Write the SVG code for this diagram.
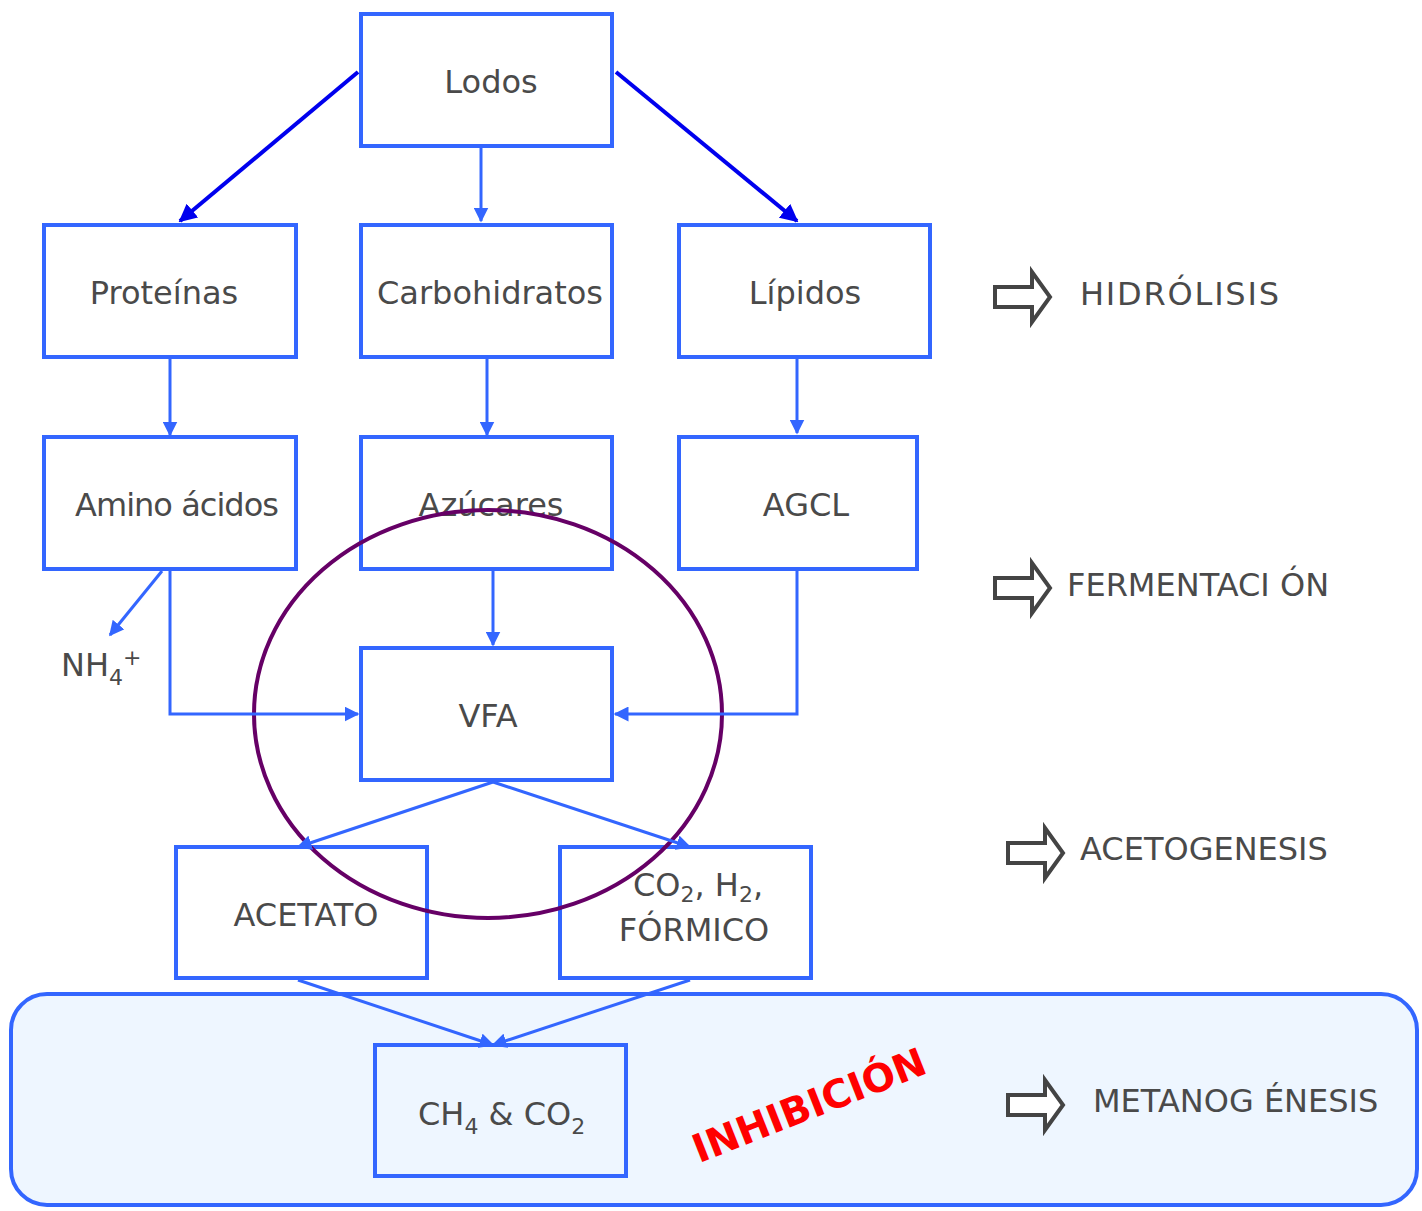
<svg xmlns="http://www.w3.org/2000/svg" width="1422" height="1211" viewBox="0 0 1422 1211">
  <defs>
    <style>
      .box { fill: #ffffff; stroke: #3366ff; stroke-width: 4; }
      .lbl { font-family: "DejaVu Sans", Verdana, sans-serif; font-size: 32px; fill: #4a4a4a; }
      .stage { font-family: "DejaVu Sans", Verdana, sans-serif; font-size: 32px; fill: #4a4a4a; }
      .conn { fill: none; stroke: #3366ff; stroke-width: 3; }
      .connDark { fill: none; stroke: #0000ee; stroke-width: 4; }
      .blk { fill: #ffffff; stroke: #444444; stroke-width: 4; }
      .sub { font-size: 22px; }
    </style>
    <marker id="ah" viewBox="0 0 10 10" refX="9" refY="5" markerWidth="5" markerHeight="5" orient="auto" markerUnits="strokeWidth">
      <path d="M0,0 L10,5 L0,10 z" fill="#3366ff"/>
    </marker>
    <marker id="ahDark" viewBox="0 0 10 10" refX="9" refY="5" markerWidth="4.5" markerHeight="4.5" orient="auto" markerUnits="strokeWidth">
      <path d="M0,0 L10,5 L0,10 z" fill="#0000ee"/>
    </marker>
    <path id="blockArrow" d="M0,15 L37,15 L37,0 L55,25 L37,50 L37,35 L0,35 z"/>
  </defs>

  <!-- methanogenesis zone -->
  <rect id="zona-metanogenesis" x="11" y="994" width="1406" height="211" rx="36" fill="#eef6ff" stroke="#3366ff" stroke-width="4"/>

  <g id="lodos">
    <rect class="box" x="361" y="14" width="251" height="132"/>
    <text class="lbl" x="491" y="93" text-anchor="middle">Lodos</text>
  </g>
  <g id="proteinas">
    <rect class="box" x="44" y="225" width="252" height="132"/>
    <text class="lbl" x="164" y="304" text-anchor="middle">Proteínas</text>
  </g>
  <g id="carbohidratos">
    <rect class="box" x="361" y="225" width="251" height="132"/>
    <text class="lbl" x="490" y="304" text-anchor="middle">Carbohidratos</text>
  </g>
  <g id="lipidos">
    <rect class="box" x="679" y="225" width="251" height="132"/>
    <text class="lbl" x="805" y="304" text-anchor="middle">Lípidos</text>
  </g>
  <g id="aminoacidos">
    <rect class="box" x="44" y="437" width="252" height="132"/>
    <text class="lbl" x="177" y="516" text-anchor="middle" textLength="204">Amino ácidos</text>
  </g>
  <g id="azucares">
    <rect class="box" x="361" y="437" width="251" height="132"/>
    <text class="lbl" x="491" y="516" text-anchor="middle">Azúcares</text>
  </g>
  <g id="agcl">
    <rect class="box" x="679" y="437" width="238" height="132"/>
    <text class="lbl" x="806" y="516" text-anchor="middle">AGCL</text>
  </g>
  <g id="nh4">
    <text class="lbl" x="61" y="676">NH<tspan class="sub" dy="9">4</tspan><tspan class="sub" dy="-20">+</tspan></text>
  </g>
  <g id="vfa">
    <rect class="box" x="361" y="648" width="251" height="132"/>
    <text class="lbl" x="488" y="727" text-anchor="middle">VFA</text>
  </g>
  <g id="acetato">
    <rect class="box" x="176" y="847" width="251" height="131"/>
    <text class="lbl" x="306" y="926" text-anchor="middle">ACETATO</text>
  </g>
  <g id="co2-h2-formico">
    <rect class="box" x="560" y="847" width="251" height="131"/>
    <text class="lbl" x="698" y="896" text-anchor="middle">CO<tspan class="sub" dy="6">2</tspan><tspan dy="-6">, H</tspan><tspan class="sub" dy="6">2</tspan><tspan dy="-6">,</tspan></text>
    <text class="lbl" x="694" y="941" text-anchor="middle">FÓRMICO</text>
  </g>
  <g id="ch4-co2">
    <rect class="box" x="375" y="1045" width="251" height="131" style="fill:#eef6ff"/>
    <text class="lbl" x="418" y="1125">CH<tspan class="sub" dy="9">4</tspan><tspan dy="-9"> &amp; CO</tspan><tspan class="sub" dy="9">2</tspan></text>
  </g>

  <!-- highlighted VFA zone -->
  <ellipse id="vfa-ellipse" cx="488" cy="714" rx="234" ry="204" fill="none" stroke="#660066" stroke-width="4"/>

  <g id="connectors">
    <line class="connDark" x1="358" y1="72" x2="180" y2="221" marker-end="url(#ahDark)"/>
    <line class="connDark" x1="616" y1="72" x2="797" y2="221" marker-end="url(#ahDark)"/>
    <line class="conn" x1="481" y1="148" x2="481" y2="221" marker-end="url(#ah)"/>
    <line class="conn" x1="170" y1="359" x2="170" y2="435" marker-end="url(#ah)"/>
    <line class="conn" x1="487" y1="359" x2="487" y2="435" marker-end="url(#ah)"/>
    <line class="conn" x1="797" y1="359" x2="797" y2="433" marker-end="url(#ah)"/>
    <line class="conn" x1="162" y1="571" x2="110" y2="635" marker-end="url(#ah)"/>
    <polyline class="conn" points="170,571 170,714 358,714" marker-end="url(#ah)"/>
    <line class="conn" x1="493" y1="571" x2="493" y2="645" marker-end="url(#ah)"/>
    <polyline class="conn" points="797,571 797,714 615,714" marker-end="url(#ah)"/>
    <line class="conn" x1="493" y1="782" x2="298" y2="847" marker-end="url(#ah)"/>
    <line class="conn" x1="493" y1="782" x2="690" y2="847" marker-end="url(#ah)"/>
    <line class="conn" x1="298" y1="980" x2="493" y2="1045" marker-end="url(#ah)"/>
    <line class="conn" x1="690" y1="980" x2="493" y2="1045" marker-end="url(#ah)"/>
  </g>

  <!-- stage labels -->
  <g id="etapa-hidrolisis">
    <use href="#blockArrow" class="blk" x="995" y="272"/>
    <text class="stage" x="1080" y="305" textLength="199">HIDRÓLISIS</text>
  </g>
  <g id="etapa-fermentacion">
    <use href="#blockArrow" class="blk" x="995" y="563"/>
    <text class="stage" x="1067" y="596">FERMENTACI ÓN</text>
  </g>
  <g id="etapa-acetogenesis">
    <use href="#blockArrow" class="blk" x="1008" y="828"/>
    <text class="stage" x="1080" y="860">ACETOGENESIS</text>
  </g>
  <g id="etapa-metanogenesis">
    <use href="#blockArrow" class="blk" x="1008" y="1080"/>
    <text class="stage" x="1093" y="1112">METANOG ÉNESIS</text>
  </g>

  <text id="inhibicion" x="0" y="0" transform="translate(814,1118) rotate(-21.5)" text-anchor="middle" font-family="'DejaVu Sans', Verdana, sans-serif" font-weight="bold" font-size="39" fill="#ff0000">INHIBICIÓN</text>
</svg>
